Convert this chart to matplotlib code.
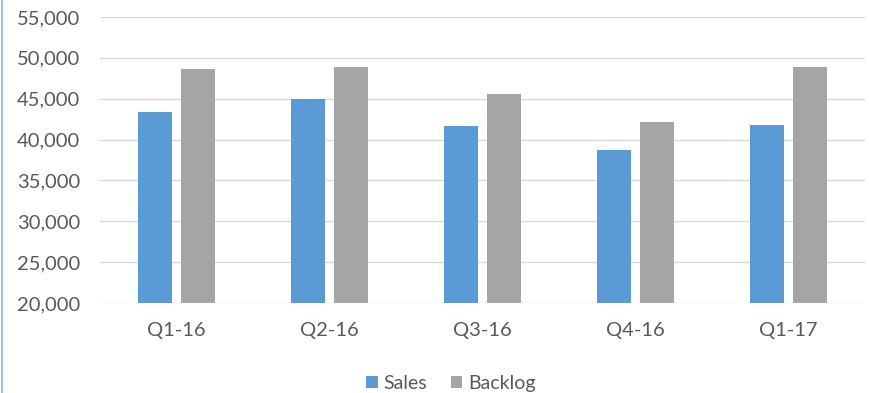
import numpy as np
import matplotlib.pyplot as plt
from matplotlib.lines import Line2D

quarters = ['Q1-16', 'Q2-16', 'Q3-16', 'Q4-16', 'Q1-17']
sales = [43400, 44900, 41600, 38700, 41750]
backlog = [48600, 48900, 45600, 42200, 48900]

plt.rcParams['font.family'] = ['Lato', 'DejaVu Sans']

fig = plt.figure(figsize=(8.69, 3.93), dpi=100)
ax = fig.add_axes([0.115, 0.229, 0.88, 0.728])

x = np.arange(len(quarters))
w = 0.222
off = 0.14
ax.bar(x - off, sales, w, color='#5B9BD5', label='Sales', zorder=3)
ax.bar(x + off, backlog, w, color='#A5A5A5', label='Backlog', zorder=3)

ax.set_xlim(-0.5, len(quarters) - 0.5)
ax.set_ylim(20000, 55000)
ax.set_yticks(range(20000, 55001, 5000))
ax.set_yticklabels([f'{v:,}' for v in range(20000, 55001, 5000)])
ax.set_xticks(x)
ax.set_xticklabels(quarters)

ax.grid(axis='y', color='#D9D9D9', linewidth=1, zorder=0)
for s in ax.spines.values():
    s.set_visible(False)
ax.tick_params(axis='both', length=0, labelsize=14.5, colors='#595959')
ax.tick_params(axis='y', pad=14)
ax.tick_params(axis='x', pad=14)

ax.legend(loc='upper center', bbox_to_anchor=(0.459, -0.19), ncol=2, frameon=False,
          fontsize=14, labelcolor='#595959', handlelength=0.6, handleheight=0.6,
          handletextpad=0.3, columnspacing=1.2)

# thin border line on the left edge
fig.add_artist(Line2D([0.002, 0.002], [0, 1], transform=fig.transFigure,
                      color='#9DC3E6', linewidth=1.5))

fig.savefig('out.png', dpi=100)
